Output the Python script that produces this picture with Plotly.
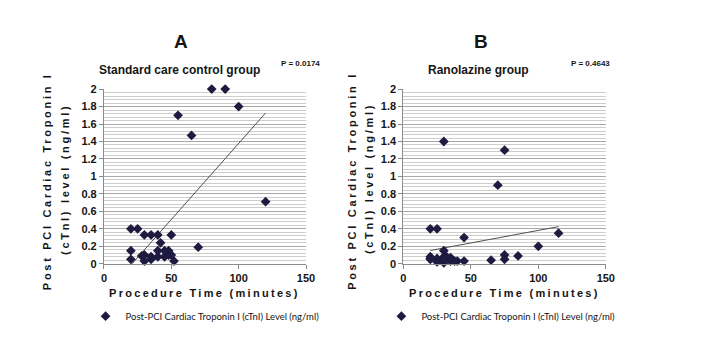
import numpy as np
import plotly.graph_objects as go

# ---- data ----
time_a = [20, 25, 30, 35, 40, 50, 42, 20, 20, 28, 30, 30, 35, 35, 40, 40, 45, 45, 48, 48, 50, 52, 70, 120, 55, 65, 80, 90, 100]
ctni_a = [0.40, 0.40, 0.33, 0.33, 0.33, 0.33, 0.24, 0.15, 0.05, 0.09, 0.10, 0.03, 0.08, 0.05, 0.15, 0.08, 0.15, 0.08, 0.15, 0.10, 0.10, 0.03, 0.19, 0.71, 1.70, 1.47, 2.00, 2.00, 1.80]

time_b = [20, 25, 45, 30, 70, 115, 100, 85, 75, 75, 65, 45, 40, 38, 35, 35, 32, 30, 30, 25, 25, 20, 20, 30, 75, 20, 25, 30, 35]
ctni_b = [0.40, 0.40, 0.30, 0.15, 0.90, 0.35, 0.20, 0.09, 0.10, 0.05, 0.04, 0.03, 0.03, 0.03, 0.07, 0.03, 0.08, 0.08, 0.01, 0.06, 0.02, 0.08, 0.05, 1.40, 1.30, 0.06, 0.04, 0.05, 0.05]

panel_letters = ["A", "B"]
panel_titles = ["Standard care control group", "Ranolazine group"]
p_values = ["P = 0.0174", "P = 0.4643"]
series_name = "Post-PCI Cardiac Troponin I (cTnI) Level (ng/ml)"
x_title = "Procedure Time (minutes)"
y_title_1 = "Post PCI Cardiac Troponin I"
y_title_2 = "(cTnI) level (ng/ml)"
x_ticks = [0, 50, 100, 150]
y_ticks = [0, 0.2, 0.4, 0.6, 0.8, 1, 1.2, 1.4, 1.6, 1.8, 2]

W, H = 701, 357
MARKER = "#1e1a40"
TXT = "#151515"

def trend(x, y):
    x = np.array(x, float); y = np.array(y, float)
    m, c = np.polyfit(x, y, 1)
    xs = np.array([x.min(), x.max()])
    return xs, m * xs + c

fig = go.Figure()
for i, (xs, ys) in enumerate([(time_a, ctni_a), (time_b, ctni_b)]):
    sfx = "" if i == 0 else "2"
    tx, ty = trend(xs, ys)
    fig.add_trace(go.Scatter(x=tx, y=ty, mode="lines", line=dict(color="#505050", width=1),
                             showlegend=False, xaxis="x" + sfx, yaxis="y" + sfx, hoverinfo="skip"))
    fig.add_trace(go.Scatter(x=xs, y=ys, mode="markers", name=series_name,
                             marker=dict(symbol="diamond", size=7.5, color=MARKER),
                             cliponaxis=False, xaxis="x" + sfx, yaxis="y" + sfx,
                             legend="legend" + sfx))

def px_x(p):
    return p / W

def px_y(p):
    return 1 - p / H

ydom = [px_y(266.7), px_y(86)]
xdoms = [[px_x(102.7), px_x(308.3)], [px_x(407.3), px_x(613.3)]]

tickfont = dict(family="Liberation Sans, Arial", size=11, color=TXT, weight="bold")
common_x = dict(range=[0, 150], tickvals=x_ticks, showgrid=False, zeroline=False, showline=True,
                linecolor="#8c8c8c", linewidth=1, ticks="outside", ticklen=4, tickcolor="#8c8c8c",
                tickfont=tickfont, fixedrange=True)
common_y = dict(range=[0, 2], tickvals=y_ticks, showgrid=True, gridcolor="#a8a8a8", gridwidth=1,
                zeroline=False, showline=True, linecolor="#8c8c8c", linewidth=1, ticks="outside",
                ticklen=4, tickcolor="#8c8c8c", tickfont=tickfont,
                minor=dict(dtick=0.04, showgrid=True, gridcolor="#cdcdcd", gridwidth=1, ticks=""),
                fixedrange=True)

legfont = dict(family="Liberation Sans Narrow, Lato", size=9.5, color=TXT)
fig.update_layout(
    width=W, height=H, margin=dict(l=0, r=0, t=0, b=0),
    paper_bgcolor="white", plot_bgcolor="white",
    xaxis=dict(domain=xdoms[0], anchor="y", **common_x),
    yaxis=dict(domain=ydom, anchor="x", **common_y),
    xaxis2=dict(domain=xdoms[1], anchor="y2", **common_x),
    yaxis2=dict(domain=ydom, anchor="x2", **common_y),
    legend=dict(x=px_x(84), y=px_y(321), xanchor="left", yanchor="middle",
                font=legfont, itemwidth=30, bgcolor="rgba(0,0,0,0)"),
    legend2=dict(x=px_x(385), y=px_y(321), xanchor="left", yanchor="middle",
                 font=legfont, itemwidth=30, bgcolor="rgba(0,0,0,0)"),
    showlegend=True,
)

def spaced(t, sp):
    return '<span style="letter-spacing:%spx">%s</span>' % (sp, t)

ann = []
letter_x = [181.5, 486.5]
title_x = [179.5, 484]
p_x = [302.5, 597.5]
xt_x = [205.5, 510.3]
yt1_x = [45, 355]
yt2_x = [63, 372.5]
for i in range(2):
    ann.append(dict(text=panel_letters[i], x=px_x(letter_x[i]), y=px_y(37), xref="paper", yref="paper",
                    showarrow=False, xanchor="center", yanchor="middle",
                    font=dict(family="Liberation Sans, Arial", size=19, color=TXT, weight="bold")))
    ann.append(dict(text=panel_titles[i], x=px_x(title_x[i]), y=px_y(66.5), xref="paper", yref="paper",
                    showarrow=False, xanchor="center", yanchor="middle",
                    font=dict(family="Liberation Sans, Arial", size=12, color=TXT, weight="bold")))
    ann.append(dict(text=p_values[i], x=px_x(p_x[i]), y=px_y(59.3), xref="paper", yref="paper",
                    showarrow=False, xanchor="center", yanchor="middle",
                    font=dict(family="Liberation Sans, Arial", size=8, color=TXT, weight="bold")))
    ann.append(dict(text=spaced(x_title, 2.3), x=px_x(xt_x[i]), y=px_y(297), xref="paper", yref="paper",
                    showarrow=False, xanchor="center", yanchor="middle",
                    font=dict(family="Liberation Sans, Arial", size=11, color=TXT, weight="bold")))
    ann.append(dict(text=spaced(y_title_1, 2.7), x=px_x(yt1_x[i]), y=px_y(181), xref="paper", yref="paper",
                    showarrow=False, xanchor="center", yanchor="middle", textangle=-90,
                    font=dict(family="Liberation Sans, Arial", size=11, color=TXT, weight="bold")))
    ann.append(dict(text=spaced(y_title_2, 2.7), x=px_x(yt2_x[i]), y=px_y(179), xref="paper", yref="paper",
                    showarrow=False, xanchor="center", yanchor="middle", textangle=-90,
                    font=dict(family="Liberation Sans, Arial", size=11, color=TXT, weight="bold")))
fig.update_layout(annotations=ann)

fig.write_html("out.html", config={"displayModeBar": False},
               post_script="document.body.style.margin='0';")
